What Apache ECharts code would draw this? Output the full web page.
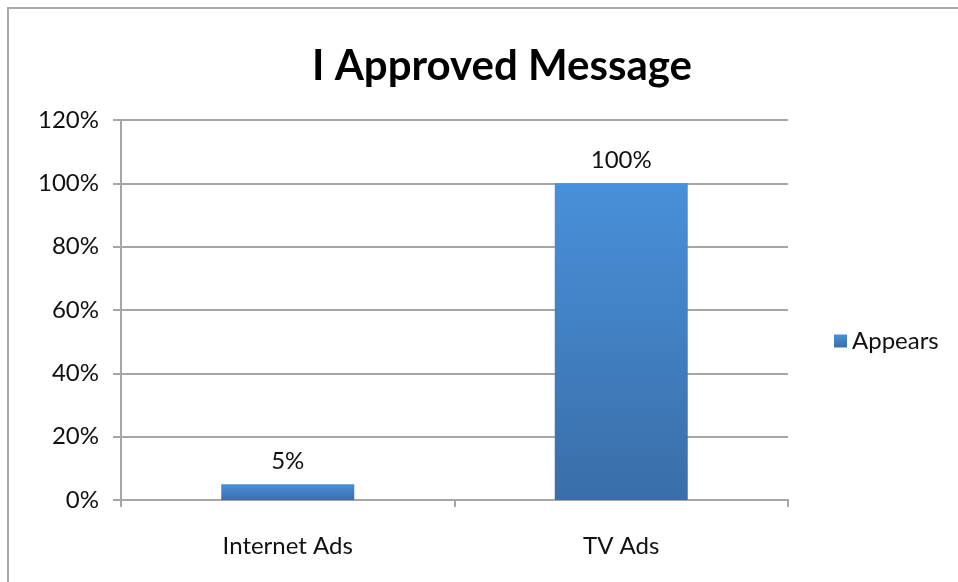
<!DOCTYPE html>
<html>
<head>
<meta charset="utf-8">
<script src="https://cdn.jsdelivr.net/npm/echarts@6/dist/echarts.min.js"></script>
<style>
html,body{margin:0;padding:0;background:#fff;}
#frame{position:absolute;left:7px;top:7px;width:951px;height:575px;border-top:2px solid #aaaaaa;border-left:2px solid #aaaaaa;box-sizing:border-box;}
#chart{position:absolute;left:0;top:0;width:958px;height:582px;}
</style>
</head>
<body>
<div id="frame"></div>
<div id="chart"></div>
<script>
var titleText = 'I Approved Message';
var categories = ['Internet Ads', 'TV Ads'];
var seriesName = 'Appears';
var values = [0.05, 1.00];
var yMin = 0, yMax = 1.2, yInterval = 0.2;

var chart = echarts.init(document.getElementById('chart'), null, {renderer: 'canvas'});
var font = 'Lato, "Open Sans", sans-serif';
chart.setOption({
  animation: false,
  backgroundColor: 'transparent',
  title: {
    text: titleText, left: 497, top: 40, textAlign: 'center',
    textStyle: {fontFamily: font, fontWeight: 'bold', fontSize: 42, color: '#000'}
  },
  legend: {
    data: [seriesName], left: 829, top: 324, orient: 'vertical',
    icon: 'rect', itemWidth: 13, itemHeight: 13, itemGap: 7,
    textStyle: {fontFamily: font, fontSize: 24, color: '#111'}
  },
  grid: {left: 121, right: 170, top: 120, bottom: 82},
  xAxis: {
    type: 'category', data: categories,
    axisLine: {lineStyle: {color: '#a6a6a6', width: 2}},
    axisTick: {show: true, length: 7, lineStyle: {color: '#a6a6a6', width: 2}},
    axisLabel: {fontFamily: font, fontSize: 24, color: '#111', margin: 34}
  },
  yAxis: {
    type: 'value', min: yMin, max: yMax, interval: yInterval,
    axisLine: {show: true, lineStyle: {color: '#a6a6a6', width: 2}},
    axisTick: {show: true, length: 8, lineStyle: {color: '#a6a6a6', width: 2}},
    splitLine: {lineStyle: {color: '#a6a6a6', width: 2}},
    axisLabel: {fontFamily: font, fontSize: 24, color: '#111', margin: 22,
      formatter: function (v) { return Math.round(v * 100) + '%'; }}
  },
  series: [{
    name: seriesName, type: 'bar', data: values, barWidth: 133,
    itemStyle: {
      color: new echarts.graphic.LinearGradient(0, 0, 0, 1, [
        {offset: 0, color: '#4890da'},
        {offset: 1, color: '#3a6ea8'}
      ])
    },
    label: {
      show: true, position: 'top', distance: 11,
      fontFamily: font, fontSize: 24, color: '#111',
      formatter: function (p) { return Math.round(p.value * 100) + '%'; }
    }
  }]
});
</script>
</body>
</html>
